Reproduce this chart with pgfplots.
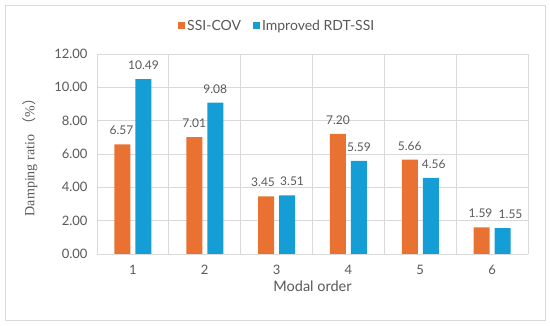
\documentclass[border=0pt]{standalone}
\usepackage{pgfplots}
\usepackage{pgfplotstable}
\pgfplotsset{compat=1.18}
\usepackage{fontspec}
\setmainfont{Lato}
\newfontfamily\serifft{Liberation Serif}
\newfontfamily\cjk{Noto Sans CJK SC}
\definecolor{cor}{RGB}{233,113,50}
\definecolor{cbl}{RGB}{21,158,213}
\definecolor{txt}{RGB}{89,89,89}
\definecolor{grd}{RGB}{217,217,217}
\pgfplotstableread{
x y dx
1 6.57 -1
2 7.01 0
3 3.45 -3
4 7.20 0
5 5.66 0
6 1.59 -1
}\ssicov
\pgfplotstableread{
x y dx
1 10.49 0
2 9.08 0
3 3.51 5
4 5.59 0
5 4.56 3
6 1.55 8
}\rdtssi
\begin{document}
\begin{tikzpicture}
\path (0,0) rectangle (550bp,326bp);
\draw[grd, line width=0.8bp] (5bp,6bp) rectangle (545bp,321bp);
\begin{axis}[
  at={(97bp,72bp)}, anchor=south west,
  scale only axis, width=431bp, height=200bp,
  ybar=5bp, bar width=16bp,
  xmin=0.5, xmax=6.5, ymin=0, ymax=12,
  xtick={1,2,3,4,5,6},
  minor xtick={0.5,1.5,2.5,3.5,4.5,5.5,6.5},
  ytick={0,2,4,6,8,10,12},
  yticklabel style={/pgf/number format/fixed, /pgf/number format/zerofill, /pgf/number format/precision=2, xshift=-6bp},
  /pgf/number format/assume math mode=true,
  xmajorgrids=false, xminorgrids=true, ymajorgrids=true,
  grid style={grd, line width=0.8bp},
  minor grid style={grd, line width=0.8bp},
  axis line style={grd, line width=0.8bp},
  axis x line*=bottom, axis y line*=left,
  y axis line style={draw=none},
  major tick length=0pt, minor tick length=0pt,
  tick style={draw=none},
  ticklabel style={font=\fontsize{13bp}{15bp}\selectfont, text=txt},
  xticklabel style={yshift=-8bp},
  xlabel={Modal order},
  xlabel style={font=\fontsize{14.5bp}{17bp}\selectfont, text=txt, yshift=1bp},
  ylabel={\serifft Damping ratio {\cjk （}\%{\cjk ）}},
  ylabel style={font=\fontsize{14bp}{17bp}\selectfont, text=txt, yshift=10bp},
  nodes near coords,
  visualization depends on={\thisrow{dx} \as \dx},
  nodes near coords style={font=\fontsize{12bp}{14bp}\selectfont, text=txt,
     /pgf/number format/fixed, /pgf/number format/zerofill, /pgf/number format/precision=2, yshift=6bp, xshift=\dx bp},
  legend style={at={(0,1)}, anchor=west, xshift=78bp, yshift=28bp, draw=none,
     font=\fontsize{14bp}{16bp}\selectfont, text=txt, legend columns=2,
     /tikz/every odd column/.append style={column sep=0bp},
     /tikz/every even column/.append style={column sep=10bp},
     legend cell align=left},
  legend image code/.code={\fill[#1] (4bp,-3.5bp) rectangle (11bp,3.5bp);},
]
\addplot[fill=cor, draw=none] table[x=x, y=y] {\ssicov};
\addplot[fill=cbl, draw=none] table[x=x, y=y] {\rdtssi};
\legend{SSI-COV, Improved RDT-SSI}
\end{axis}
\end{tikzpicture}
\end{document}
